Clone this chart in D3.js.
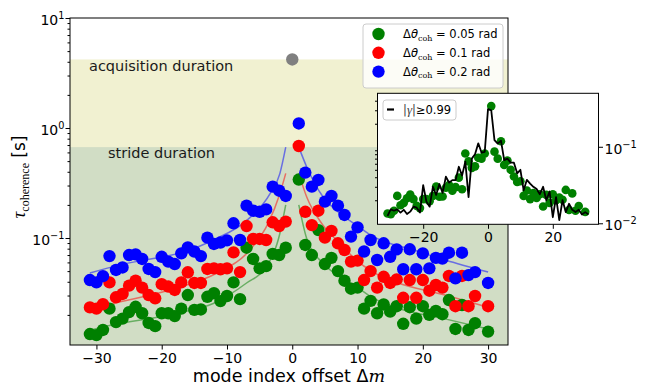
<!DOCTYPE html>
<html>
<head>
<meta charset="utf-8">
<script src="https://cdn.jsdelivr.net/npm/d3@7"></script>
<style>
  body { margin: 0; background: #fff; }
  svg { display: block; font-family: "DejaVu Sans", sans-serif; }
</style>
</head>
<body>
<div id="chart"></div>
<script>
// mode index offsets (x)
const modes = [-31,-30,-29,-28,-27,-26,-25,-24,-23,-22,-21,-20,-19,-18,-17,-16,-15,-14,-13,-12,-11,-10,-9,-8,-7,-6,-5,-4,-3,-2,-1,
  1,2,3,4,5,6,7,8,9,10,11,12,13,14,15,16,17,18,19,20,21,22,23,24,25,26,27,28,29,30];

// coherence time [s] for each threshold, aligned with modes (null = not shown)
const tauGreen = [0.0134,0.0131,0.0146,0.0228,0.0172,0.0185,0.0212,0.0237,0.0207,0.0169,0.0158,0.0207,0.0207,0.0195,0.0228,
  0.0303,0.0222,0.0224,0.0292,0.0315,0.0267,0.0297,0.0395,0.0278,0.0816,0.0645,0.053,0.0555,0.0717,0.070,0.0816,
  0.34,0.0864,0.070,0.118,0.058,0.066,0.050,0.0409,0.0346,0.0354,0.0228,0.0268,0.0207,0.0249,0.0214,
  0.024,0.0166,0.0235,0.0185,0.024,0.020,0.0217,0.0203,0.0273,0.0149,0.0246,0.0146,0.0168,null,0.0141];
const tauRed = [0.0234,0.0228,0.0250,0.0395,0.0289,0.031,0.0369,0.0409,0.0354,0.0303,0.0283,0.038,0.0362,0.0337,0.0395,
  0.0488,0.039,0.039,0.0523,0.053,0.052,0.053,0.0741,0.049,0.1285,0.098,0.098,0.0959,0.139,0.1285,0.141,
  0.686,0.173,0.131,0.177,0.1007,0.116,0.0895,0.0778,0.061,0.0623,0.0415,0.050,0.0354,0.0444,0.039,
  0.0421,0.0286,0.0415,0.0286,0.0415,0.0332,0.0374,0.0354,0.0452,0.024,0.0452,0.024,0.0297,null,0.024];
const tauBlue = [0.0415,0.0395,0.0450,0.0685,0.0512,0.054,0.070,0.071,0.0645,0.0523,0.049,0.0675,0.061,0.058,0.0725,
  0.0822,0.0754,0.0685,0.1007,0.0883,0.091,0.0952,0.136,0.0959,0.197,0.177,0.173,0.182,0.293,0.269,0.241,
  1.10,0.393,0.293,0.337,0.214,0.241,0.197,0.162,0.103,0.125,0.0754,0.0959,0.0631,0.0895,0.0675,
  0.0789,0.052,0.079,0.052,0.0725,0.053,0.066,0.065,0.0735,0.043,0.0735,0.046,0.049,null,0.039];

// fitted curves: [offset, tau]
const fitGreenLeft = [[-31,0.0145],[-28.5,0.0158],[-17,0.021],[-12.1,0.0254],[-7,0.039],[-4,0.0546],[-1.9,0.11],[-1,0.2]];
const fitGreenRight = [[1,0.2],[2.2,0.0994],[4.7,0.0589],[7.3,0.0444],[9.8,0.0362],[12.4,0.0284],[15.7,0.0235],[23.4,0.0184],[30,0.0149]];
const fitRedLeft = [[-31,0.0225],[-28.5,0.0246],[-18.8,0.0337],[-11.6,0.0478],[-6.5,0.0778],[-3.7,0.136],[-1.9,0.253],[-1,0.387]];
const fitRedRight = [[1,0.387],[2.2,0.237],[4.7,0.131],[7.3,0.0895],[9.8,0.063],[12.4,0.049],[15.7,0.040],[23.4,0.0303],[30,0.0235]];
const fitBlueLeft = [[-31,0.048],[-26.4,0.057],[-21.3,0.065],[-16.5,0.075],[-12.1,0.096],[-7,0.144],[-3.4,0.253],[-1.9,0.385],[-1,0.67]];
const fitBlueRight = [[1,0.67],[2.2,0.445],[4.7,0.237],[7.3,0.168],[9.8,0.131],[12.4,0.103],[14.9,0.0895],[17.7,0.0806],[23.4,0.063],[30,0.049]];

const acquisitionDuration = 4.2;
const strideDuration = 0.67;
const acquisitionPoint = [0, 4.2];

// inset: |gamma| >= 0.99 curve, offsets -31..31
const gammaModes = [-31,-30,-29,-28,-27,-26,-25,-24,-23,-22,-21,-20,-19,-18,-17,-16,-15,-14,-13,-12,-11,-10,-9,-8,-7,-6,-5,-4,-3,-2,-1,
  0,1,2,3,4,5,6,7,8,9,10,11,12,13,14,15,16,17,18,19,20,21,22,23,24,25,26,27,28,29,30,31];
const gammaTau = [0.0125,0.0152,0.0146,0.0152,0.0138,0.015,0.0132,0.0142,0.0165,0.016,0.0138,0.0316,0.0192,0.0165,0.030,0.0235,0.0326,0.025,0.0406,0.034,0.0367,0.0367,0.0548,0.042,0.064,0.022,0.07,0.08,0.111,0.084,0.086,
  0.31,0.30,0.122,0.11,0.12,0.067,0.07,0.062,0.062,0.045,0.05,0.027,0.037,0.033,0.03,0.028,0.024,0.03,0.02,0.026,0.012,0.022,0.011,0.02,0.014,0.018,0.015,0.014,0.015,0.013,0.014,0.013];

const seriesNames = ["0.05", "0.1", "0.2"];
const seriesColors = ["#008000", "#ff0000", "#0000ff"];

const W = 645, H = 386;
const M = { left: 70, right: 508, top: 18, bottom: 345 };

const svg = d3.select("#chart").append("svg").attr("width", W).attr("height", H);

const x = d3.scaleLinear().domain([-34.05, 33.05]).range([M.left, M.right]);
const y = d3.scaleLog().domain([0.01065, 10]).range([M.bottom, M.top]);

svg.append("defs").append("clipPath").attr("id", "clipMain")
  .append("rect").attr("x", M.left).attr("y", M.top)
  .attr("width", M.right - M.left).attr("height", M.bottom - M.top);

const plot = svg.append("g").attr("clip-path", "url(#clipMain)");

// duration bands
plot.append("rect")
  .attr("x", M.left).attr("width", M.right - M.left)
  .attr("y", y(acquisitionDuration)).attr("height", M.bottom - y(acquisitionDuration))
  .attr("fill", "#f1f1d1");
plot.append("rect")
  .attr("x", M.left).attr("width", M.right - M.left)
  .attr("y", y(strideDuration)).attr("height", M.bottom - y(strideDuration))
  .attr("fill", "#d1ddc5");

svg.append("text").attr("x", 89).attr("y", 71).attr("font-size", 14.5).attr("fill", "#1a1a1a")
  .text("acquisition duration");
svg.append("text").attr("x", 108).attr("y", 158).attr("font-size", 14.5).attr("fill", "#1a1a1a")
  .text("stride duration");

// fit lines
const fitLine = d3.line().x(d => x(d[0])).y(d => y(d[1])).curve(d3.curveMonotoneX);
const fits = [[fitGreenLeft, fitGreenRight], [fitRedLeft, fitRedRight], [fitBlueLeft, fitBlueRight]];
fits.forEach((pair, i) => {
  pair.forEach(f => {
    plot.append("path").attr("d", fitLine(f))
      .attr("fill", "none").attr("stroke", seriesColors[i])
      .attr("stroke-opacity", 0.5).attr("stroke-width", 1.5);
  });
});

// points
const series = [tauGreen, tauRed, tauBlue];
series.forEach((vals, i) => {
  const pts = modes.map((m, j) => [m, vals[j]]).filter(d => d[1] != null);
  plot.append("g").selectAll("circle").data(pts).join("circle")
    .attr("cx", d => x(d[0])).attr("cy", d => y(d[1])).attr("r", 6.2)
    .attr("fill", seriesColors[i]);
});
plot.append("circle").attr("cx", x(acquisitionPoint[0])).attr("cy", y(acquisitionPoint[1]))
  .attr("r", 6.2).attr("fill", "#808080");

// axes
function supLabel(sel, fontSize) {
  sel.each(function (d) {
    const t = d3.select(this);
    const e = Math.round(Math.log10(d));
    t.text(null);
    t.append("tspan").text("10");
    t.append("tspan").attr("dy", -fontSize * 0.42).attr("font-size", fontSize * 0.7)
      .text(e < 0 ? "\u2212" + (-e) : String(e));
  });
}

const xAxis = svg.append("g").attr("transform", `translate(0,${M.bottom})`)
  .call(d3.axisBottom(x).tickValues([-30, -20, -10, 0, 10, 20, 30])
    .tickFormat(d => d < 0 ? "\u2212" + (-d) : String(d)).tickSize(4.5).tickPadding(3.5));
xAxis.selectAll("text").attr("font-size", 14).attr("font-family", "DejaVu Sans").attr("fill", "#000");

const yMajor = [0.1, 1, 10];
const yMinor = [];
[0.01, 0.1, 1].forEach(dec => { for (let k = 2; k <= 9; k++) if (dec * k > 0.01065) yMinor.push(dec * k); });

svg.append("g").attr("transform", `translate(${M.left},0)`)
  .call(d3.axisLeft(y).tickValues(yMinor).tickFormat("").tickSize(2.5))
  .call(g => g.select(".domain").remove());
const yAxis = svg.append("g").attr("transform", `translate(${M.left},0)`)
  .call(d3.axisLeft(y).tickValues(yMajor).tickSize(4.5).tickPadding(1));
yAxis.selectAll("text").attr("font-size", 14).attr("font-family", "DejaVu Sans").attr("fill", "#000")
  .attr("dy", "0.45em").call(supLabel, 14);

svg.selectAll(".domain").attr("stroke", "none");
svg.append("rect").attr("x", M.left).attr("y", M.top)
  .attr("width", M.right - M.left).attr("height", M.bottom - M.top)
  .attr("fill", "none").attr("stroke", "#000").attr("stroke-width", 1);

// axis labels
svg.append("text").attr("x", (M.left + M.right) / 2).attr("y", 382)
  .attr("text-anchor", "middle").attr("font-size", 17.5)
  .call(t => {
    t.append("tspan").text("mode index offset \u0394");
    t.append("tspan").attr("font-family", "DejaVu Serif").attr("font-style", "italic").text("m");
  });

const yl = svg.append("text").attr("transform", "translate(25,177) rotate(-90)")
  .attr("text-anchor", "middle").attr("font-size", 17);
yl.append("tspan").attr("font-family", "Liberation Serif").attr("font-style", "italic").attr("font-size", 19).text("\u03c4");
yl.append("tspan").attr("font-family", "Liberation Serif").attr("font-size", 12).attr("dy", 4).text("coherence");
yl.append("tspan").attr("dy", -4).text(" [s]");

// main legend
const lg = svg.append("g").attr("transform", "translate(363,24)");
lg.append("rect").attr("width", 140).attr("height", 64).attr("rx", 3)
  .attr("fill", "#fff").attr("fill-opacity", 0.8).attr("stroke", "#cccccc").attr("stroke-width", 1);
seriesNames.forEach((name, i) => {
  const row = lg.append("g").attr("transform", `translate(0,${10 + i * 18.8})`);
  row.append("circle").attr("cx", 15.5).attr("cy", 0).attr("r", 6.2).attr("fill", seriesColors[i]);
  const t = row.append("text").attr("x", 40).attr("y", 4.2).attr("font-size", 11.5);
  t.append("tspan").text("\u0394");
  t.append("tspan").attr("font-style", "italic").text("\u03b8");
  t.append("tspan").attr("font-family", "DejaVu Serif").attr("font-size", 8).attr("dy", 2.5).text("coh");
  t.append("tspan").attr("dy", -2.5).text(` = ${name} rad`);
});

// inset
const I = { left: 377.5, right: 598.5, top: 93.3, bottom: 224.3 };
const xi = d3.scaleLinear().domain([-34.1, 34.1]).range([I.left, I.right]);
const yi = d3.scaleLog().domain([0.0097, 0.5]).range([I.bottom, I.top]);

svg.append("rect").attr("x", I.left).attr("y", I.top)
  .attr("width", I.right - I.left).attr("height", I.bottom - I.top).attr("fill", "#fff");

svg.select("defs").append("clipPath").attr("id", "clipInset")
  .append("rect").attr("x", I.left).attr("y", I.top)
  .attr("width", I.right - I.left).attr("height", I.bottom - I.top);
const inset = svg.append("g").attr("clip-path", "url(#clipInset)");

const greenPts = modes.map((m, j) => [m, tauGreen[j]]).filter(d => d[1] != null);
inset.append("g").selectAll("circle").data(greenPts).join("circle")
  .attr("cx", d => xi(d[0])).attr("cy", d => yi(d[1])).attr("r", 4.3).attr("fill", "#008000");

const gammaLine = d3.line().x((d, j) => xi(gammaModes[j])).y(d => yi(d));
inset.append("path").attr("d", gammaLine(gammaTau))
  .attr("fill", "none").attr("stroke", "#000").attr("stroke-width", 1.8).attr("stroke-linejoin", "round");

const xiAxis = svg.append("g").attr("transform", `translate(0,${I.bottom})`)
  .call(d3.axisBottom(xi).tickValues([-20, 0, 20])
    .tickFormat(d => d < 0 ? "\u2212" + (-d) : String(d)).tickSize(4.5).tickPadding(3.5));
xiAxis.selectAll("text").attr("font-size", 14).attr("font-family", "DejaVu Sans").attr("fill", "#000");

const yiMinor = [];
[0.01, 0.1].forEach(dec => { for (let k = 2; k <= 9; k++) if (dec * k < 0.5) yiMinor.push(dec * k); });
svg.append("g").attr("transform", `translate(${I.left},0)`)
  .call(d3.axisLeft(yi).tickValues(yiMinor).tickFormat("").tickSize(2.5));
const yiAxis = svg.append("g").attr("transform", `translate(${I.right},0)`)
  .call(d3.axisRight(yi).tickValues([0.01, 0.1]).tickSize(4.5).tickPadding(1.5));
yiAxis.selectAll("text").attr("font-size", 14).attr("font-family", "DejaVu Sans").attr("fill", "#000")
  .attr("dy", "0.45em").call(supLabel, 14);

svg.selectAll(".domain").attr("stroke", "none");
svg.append("rect").attr("x", I.left).attr("y", I.top)
  .attr("width", I.right - I.left).attr("height", I.bottom - I.top)
  .attr("fill", "none").attr("stroke", "#000").attr("stroke-width", 1);

// inset legend
const il = svg.append("g").attr("transform", "translate(383,100)");
il.append("rect").attr("width", 73).attr("height", 20).attr("rx", 3)
  .attr("fill", "#fff").attr("fill-opacity", 0.8).attr("stroke", "#cccccc");
il.append("line").attr("x1", 4).attr("x2", 11).attr("y1", 9.5).attr("y2", 9.5)
  .attr("stroke", "#000").attr("stroke-width", 2.2);
const it = il.append("text").attr("x", 20).attr("y", 14).attr("font-size", 11.5);
it.append("tspan").attr("fill", "#444").text("|");
it.append("tspan").attr("fill", "#444").attr("font-family", "Liberation Serif").attr("font-style", "italic").attr("font-size", 13).text("\u03b3");
it.append("tspan").attr("fill", "#444").text("|");
it.append("tspan").text("\u22650.99");
</script>
</body>
</html>
